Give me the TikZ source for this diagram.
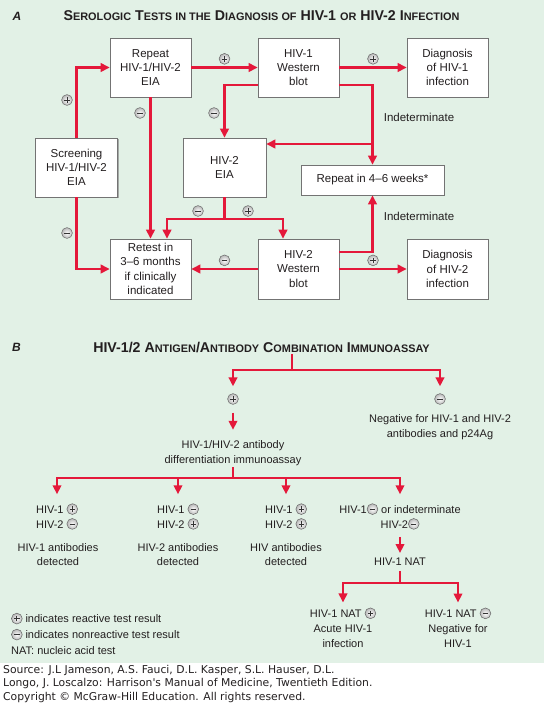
\documentclass[tikz,border=0pt]{standalone}
\usepackage{fontspec}
\setmainfont{Liberation Sans}
\newfontfamily\srcfont{DejaVu Sans}
\usetikzlibrary{arrows.meta,shadows,positioning}

\definecolor{hred}{RGB}{228,24,58}
\definecolor{hgreen}{RGB}{226,241,230}
\definecolor{htext}{RGB}{35,31,32}

\tikzset{
  signbase/.style={circle, draw=black!60, line width=0.5pt, inner sep=0pt,
    minimum size=10.8pt, shading=radial, inner color=white, outer color=black!28},
  possign/.style={signbase, path picture={
    \draw[arrows=-, line width=0.7pt, black!80]
      ([xshift=-2.7pt]path picture bounding box.center) -- ([xshift=2.7pt]path picture bounding box.center)
      ([yshift=-2.7pt]path picture bounding box.center) -- ([yshift=2.7pt]path picture bounding box.center);}},
  negsign/.style={signbase, path picture={
    \draw[arrows=-, line width=0.7pt, black!80]
      ([xshift=-2.7pt]path picture bounding box.center) -- ([xshift=2.7pt]path picture bounding box.center);}},
}

% small caps made by hand
\newcommand\capsc[2]{#1{\fontsize{10.9}{12}\selectfont #2}}
% reactive / nonreactive marks inside text
\newcommand\rpos{\tikz[baseline=-0.75ex]\node[possign]{};}
\newcommand\rneg{\tikz[baseline=-0.75ex]\node[negsign]{};}

\begin{document}
\begin{tikzpicture}[x=1pt,y=-1pt,
    box/.style={draw=black!55, fill=white, line width=0.6pt, minimum width=81pt,
      minimum height=59pt, align=center, inner sep=1pt, text=htext,
      font=\fontsize{11.5}{14.3}\selectfont,
      drop shadow={shadow xshift=1.3pt, shadow yshift=-1.3pt, fill=black!45, opacity=0.7}},
    txt/.style={align=center, inner sep=1pt, text=htext, font=\fontsize{11}{14.8}\selectfont},
    head/.style={text=htext, inner sep=1pt, font=\bfseries\fontsize{14.2}{15}\selectfont},
    wire/.style={draw=hred, line width=2.3pt},
    arr/.style={wire, -{Triangle[length=9pt,width=8.5pt]}},
  ]
  \useasboundingbox (0,0) rectangle (544,705);
  \fill[hgreen] (0,0) rectangle (544,663);

  % panel A
  \node[head, font=\bfseries\itshape\fontsize{12}{14}\selectfont] (labA) at (17,16) {A};
  \node[head] (titleA) at (261.5,16) {\capsc{S}{EROLOGIC} \capsc{T}{ESTS IN THE} \capsc{D}{IAGNOSIS OF} HIV-1 \capsc{}{OR} HIV-2 \capsc{I}{NFECTION}};

  \node[box] (repeat) at (150.5,67.5) {Repeat\\HIV-1/HIV-2\\EIA};
  \node[box] (wb1) at (298.5,67.5) {HIV-1\\Western\\blot};
  \node[box] (dx1) at (447.5,67.5) {Diagnosis\\of HIV-1\\infection};
  \node[box, minimum width=82pt] (screen) at (76.5,167.5) {Screening\\HIV-1/HIV-2\\EIA};
  \node[box, minimum width=83pt] (eia2) at (224.5,167.5) {HIV-2\\EIA};
  \node[box, minimum width=143pt, minimum height=30pt] (rep46) at (372.5,180) {Repeat in 4--6 weeks*};
  \node[box, minimum height=60pt] (retest) at (150.5,269) {Retest in\\3--6 months\\if clinically\\indicated};
  \node[box, minimum height=60pt] (wb2) at (298.5,269) {HIV-2\\Western\\blot};
  \node[box, minimum height=60pt] (dx2) at (447.5,269) {Diagnosis\\of HIV-2\\infection};

  \draw[arr] (screen.north) |- (repeat.west);
  \draw[arr] (screen.south) |- (retest.west);
  \draw[arr] (repeat.east) -- node[possign, above=3pt]{} (wb1.west);
  \draw[arr] (wb1.east) -- node[possign, above=3pt]{} (dx1.west);
  \draw[arr] (repeat.south) -- (retest.north);
  \draw[arr] ([yshift=-17.5pt]wb1.west) -| (eia2.north);
  \draw[arr] ([yshift=-17.5pt]wb1.east) -| (rep46.north);
  \coordinate (jA) at (372.5,144);
  \draw[arr] (jA) -- (jA -| eia2.east);
  \coordinate (jB) at (224.5,219);
  \draw[wire] (eia2.south) -- (jB);
  \draw[arr] (jB) -| ([xshift=16.5pt]retest.north);
  \draw[arr] (jB) -| ([xshift=-15.5pt]wb2.north);
  \draw[arr] (wb2.west) -- node[negsign, above=3pt]{} (retest.east);
  \draw[arr] (wb2.east) -- node[possign, above=3pt]{} (dx2.west);
  \draw[arr] ([yshift=17pt]wb2.east) -| (rep46.south);

  \node[possign] (sA1) at (67,100) {};
  \node[negsign] (sA2) at (67,233) {};
  \node[negsign] (sA3) at (140,113) {};
  \node[negsign] (sA4) at (214,113) {};
  \node[negsign] (sA5) at (198,211) {};
  \node[possign] (sA6) at (248,211) {};
  \node[txt, font=\fontsize{11.5}{14}\selectfont] (ind1) at (419,117) {Indeterminate};
  \node[txt, font=\fontsize{11.5}{14}\selectfont] (ind2) at (419,216) {Indeterminate};

  % panel B
  \node[head, font=\bfseries\itshape\fontsize{12}{14}\selectfont] (labB) at (16.5,347) {B};
  \node[head] (titleB) at (261.5,347) {HIV-1/2 \capsc{A}{NTIGEN}/\capsc{A}{NTIBODY} \capsc{C}{OMBINATION} \capsc{I}{MMUNOASSAY}};
  \coordinate (jC) at (292,370);
  \draw[wire] ([yshift=-1pt]titleB.south -| jC) -- (jC);
  \node[possign] (posB) at (233,399) {};
  \node[negsign] (negB) at (440,399) {};
  \draw[arr] (jC) -| ([yshift=7pt]posB.north);
  \draw[arr] (jC) -| ([yshift=7pt]negB.north);
  \node[txt] (negtxt) at (440,427.5) {Negative for HIV-1 and HIV-2\\antibodies and p24Ag};
  \node[txt] (diff) at (233,453.5) {HIV-1/HIV-2 antibody\\differentiation immunoassay};
  \draw[arr] ([yshift=-8pt]posB.south) -- ([yshift=10pt]diff.north);

  \coordinate (jD) at (233,478);
  \draw[wire] (diff.south) -- (jD);
  \node[txt] (r1) at (57,516.5) {HIV-1 \rpos\\HIV-2 \rneg};
  \node[txt] (r2) at (178,516.5) {HIV-1 \rneg\\HIV-2 \rpos};
  \node[txt] (r3) at (286,516.5) {HIV-1 \rpos\\HIV-2 \rpos};
  \node[txt] (r4) at (400,516.5) {HIV-1\rneg{} or indeterminate\\HIV-2\rneg};
  \foreach \r in {r1,r2,r3,r4}
    \draw[arr] (jD) -| ([yshift=8pt]\r.north);
  \node[txt] (d1) at (58,554.5) {HIV-1 antibodies\\detected};
  \node[txt] (d2) at (178,554.5) {HIV-2 antibodies\\detected};
  \node[txt] (d3) at (286,554.5) {HIV antibodies\\detected};
  \node[txt] (nat) at (400,562) {HIV-1 NAT};
  \draw[arr] ([yshift=-6pt]r4.south) -- ([yshift=4pt]nat.north);

  \coordinate (jE) at (400,583);
  \draw[wire] ([yshift=-4pt]nat.south) -- (jE);
  \node[txt] (n1) at (343,627.5) {HIV-1 NAT \rpos\\Acute HIV-1\\infection};
  \node[txt] (n2) at (458,627.5) {HIV-1 NAT \rneg\\Negative for\\HIV-1};
  \draw[arr] (jE) -| ([yshift=4pt]n1.north);
  \draw[arr] (jE) -| ([yshift=4pt]n2.north);

  \node[txt, align=left, anchor=west, font=\fontsize{11}{16}\selectfont] (legend) at (10,634)
    {\rpos\ indicates reactive test result\\\rneg\ indicates nonreactive test result\\NAT: nucleic acid test};

  \node[anchor=north west, align=left, inner sep=0pt, text=htext,
    font=\srcfont\fontsize{10.8}{13.5}\selectfont] (src) at (3,665)
    {Source: J.L Jameson, A.S. Fauci, D.L. Kasper, S.L. Hauser, D.L.\\
     Longo, J. Loscalzo: Harrison's Manual of Medicine, Twentieth Edition.\\
     Copyright © McGraw-Hill Education. All rights reserved.};
\end{tikzpicture}
\end{document}
